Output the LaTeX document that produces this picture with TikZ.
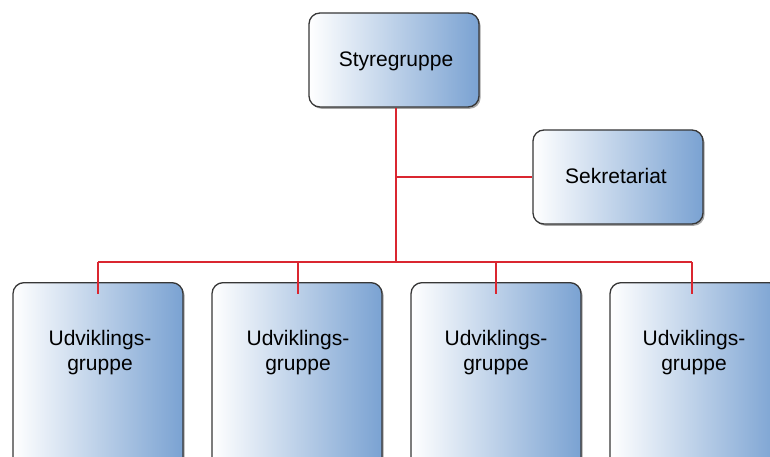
\documentclass[tikz,border=0pt]{standalone}
\usepackage{fontspec}
\setmainfont{Liberation Sans}
\usetikzlibrary{shadows}
\definecolor{boxblue}{RGB}{122,162,210}
\definecolor{linered}{RGB}{218,38,48}
\definecolor{edgegray}{RGB}{55,55,55}
\tikzset{
  orgbox/.style={draw=edgegray, line width=1.3pt, rounded corners=11pt,
    left color=white, right color=boxblue, shading angle=90,
    drop shadow={shadow xshift=1.6pt, shadow yshift=-1.8pt, opacity=0.35, fill=black},
    inner sep=0pt, font=\fontsize{21}{25}\selectfont},
  lbl/.style={align=center, inner sep=0pt, font=\fontsize{21}{25}\selectfont},
  conn/.style={draw=linered, line width=1.8pt}
}
\begin{document}
\begin{tikzpicture}[x=1pt,y=-1pt]
\useasboundingbox (0,0) rectangle (770,457);
\clip (0,0) rectangle (770,457);
% top boxes
\node[orgbox, minimum width=170pt, minimum height=94pt] (s) at (394,60) {};
\node[lbl, anchor=base] (st) at (396,66.5) {Styregruppe};
\node[orgbox, minimum width=170pt, minimum height=94pt] (k) at (618,177) {};
\node[lbl, anchor=base] (kt) at (616,183) {Sekretariat};
% bottom boxes
\node[orgbox, minimum width=170pt, minimum height=200pt, anchor=north] (u1) at (98,282) {};
\node[orgbox, minimum width=170pt, minimum height=200pt, anchor=north] (u2) at (297,282) {};
\node[orgbox, minimum width=170pt, minimum height=200pt, anchor=north] (u3) at (496,282) {};
\node[orgbox, minimum width=170pt, minimum height=200pt, anchor=north] (u4) at (695,282) {};
\node[lbl, anchor=base] (t1) at (100,370) {Udviklings-\\gruppe};
\node[lbl, anchor=base] (t2) at (298,370) {Udviklings-\\gruppe};
\node[lbl, anchor=base] (t3) at (496,370) {Udviklings-\\gruppe};
\node[lbl, anchor=base] (t4) at (694,370) {Udviklings-\\gruppe};
% connectors
\coordinate (j) at (396,262);
\coordinate (b1) at (98,262);
\coordinate (b2) at (298,262);
\coordinate (b3) at (496,262);
\coordinate (b4) at (692,262);
\draw[conn] (j |- s.south) -- (j);
\draw[conn] (j |- k.west) -- (k.west);
\draw[conn] (b1) -- (b4);
\draw[conn] (b1) -- ++(0,32);
\draw[conn] (b2) -- ++(0,32);
\draw[conn] (b3) -- ++(0,32);
\draw[conn] (b4) -- ++(0,32);
\end{tikzpicture}
\end{document}
